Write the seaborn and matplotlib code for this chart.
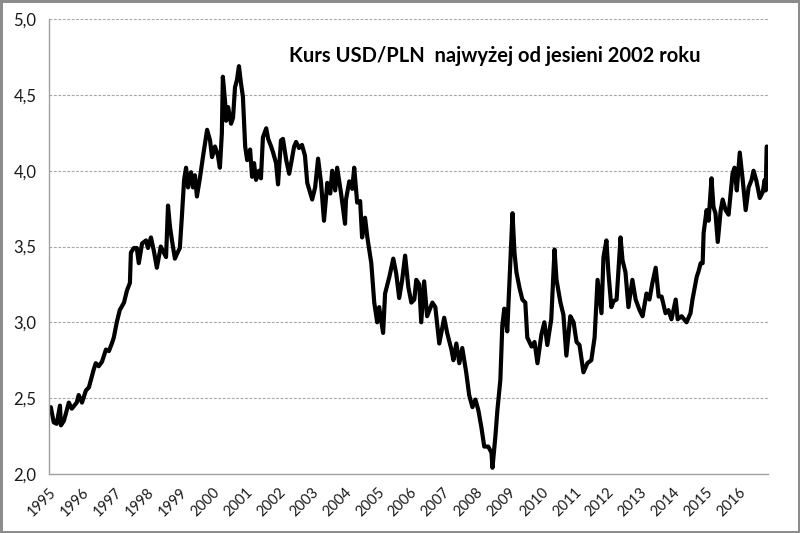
import matplotlib
matplotlib.use("Agg")
import matplotlib.pyplot as plt
import seaborn as sns
import pandas as pd

# Decimal year of each observation
dates = [
    1995.00, 1995.06, 1995.15, 1995.24, 1995.34, 1995.37, 1995.46, 1995.61, 1995.70, 1995.85,
    1995.91, 1996.01, 1996.13, 1996.22, 1996.37, 1996.43, 1996.52, 1996.62, 1996.74, 1996.83,
    1996.92, 1996.98, 1997.07, 1997.16, 1997.29, 1997.38, 1997.47, 1997.50, 1997.59, 1997.68,
    1997.74, 1997.84, 1997.96, 1998.02, 1998.11, 1998.20, 1998.29, 1998.41, 1998.48, 1998.57,
    1998.63, 1998.69, 1998.75, 1998.84, 1998.90, 1998.99, 1999.05, 1999.12, 1999.18, 1999.24,
    1999.33, 1999.39, 1999.45, 1999.51, 1999.60, 1999.70, 1999.82, 1999.91, 1999.97, 2000.06,
    2000.15, 2000.21, 2000.27, 2000.30, 2000.37, 2000.40, 2000.46, 2000.55, 2000.61, 2000.67,
    2000.73, 2000.79, 2000.85, 2000.91, 2000.98, 2001.04, 2001.13, 2001.19, 2001.25, 2001.31,
    2001.40, 2001.46, 2001.52, 2001.62, 2001.68, 2001.77, 2001.83, 2001.92, 2001.98, 2002.07,
    2002.13, 2002.23, 2002.32, 2002.38, 2002.47, 2002.53, 2002.62, 2002.71, 2002.80, 2002.87,
    2003.02, 2003.11, 2003.20, 2003.29, 2003.38, 2003.48, 2003.57, 2003.63, 2003.72, 2003.78,
    2003.90, 2004.02, 2004.05, 2004.15, 2004.24, 2004.30, 2004.39, 2004.48, 2004.54, 2004.63,
    2004.70, 2004.82, 2004.91, 2005.00, 2005.06, 2005.18, 2005.24, 2005.37, 2005.49, 2005.58,
    2005.67, 2005.76, 2005.85, 2005.95, 2006.04, 2006.13, 2006.19, 2006.28, 2006.34, 2006.43,
    2006.52, 2006.68, 2006.77, 2006.89, 2007.04, 2007.13, 2007.26, 2007.32, 2007.41, 2007.50,
    2007.59, 2007.71, 2007.80, 2007.90, 2007.99, 2008.08, 2008.17, 2008.26, 2008.38, 2008.48,
    2008.51, 2008.60, 2008.66, 2008.75, 2008.81, 2008.87, 2008.96, 2009.02, 2009.12, 2009.18,
    2009.24, 2009.33, 2009.42, 2009.51, 2009.57, 2009.70, 2009.79, 2009.88, 2010.00, 2010.09,
    2010.18, 2010.30, 2010.40, 2010.46, 2010.58, 2010.67, 2010.76, 2010.88, 2010.98, 2011.07,
    2011.16, 2011.28, 2011.40, 2011.52, 2011.62, 2011.71, 2011.83, 2011.89, 2011.98, 2012.04,
    2012.13, 2012.20, 2012.29, 2012.41, 2012.47, 2012.56, 2012.65, 2012.77, 2012.87, 2012.99,
    2013.08, 2013.20, 2013.29, 2013.38, 2013.48, 2013.57, 2013.66, 2013.78, 2013.87, 2013.96,
    2014.09, 2014.15, 2014.27, 2014.42, 2014.54, 2014.60, 2014.73, 2014.79, 2014.85, 2014.91,
    2014.94, 2015.03, 2015.09, 2015.18, 2015.24, 2015.30, 2015.37, 2015.46, 2015.52, 2015.61,
    2015.70, 2015.82, 2015.88, 2015.95, 2016.04, 2016.13, 2016.22, 2016.31, 2016.40, 2016.46,
    2016.55, 2016.65, 2016.74, 2016.80, 2016.83, 2016.86,
]

usd_pln = [
    2.42, 2.44, 2.34, 2.33, 2.45, 2.32, 2.35, 2.47, 2.43, 2.47,
    2.52, 2.47, 2.55, 2.57, 2.69, 2.73, 2.71, 2.74, 2.82, 2.81,
    2.86, 2.90, 3.00, 3.08, 3.13, 3.21, 3.26, 3.46, 3.49, 3.49,
    3.39, 3.52, 3.54, 3.49, 3.56, 3.47, 3.36, 3.50, 3.47, 3.43,
    3.77, 3.63, 3.54, 3.42, 3.45, 3.49, 3.69, 3.94, 4.02, 3.89,
    3.99, 3.89, 3.97, 3.83, 3.95, 4.10, 4.27, 4.20, 4.09, 4.16,
    4.10, 4.02, 4.25, 4.62, 4.45, 4.33, 4.42, 4.31, 4.35, 4.55,
    4.60, 4.69, 4.58, 4.49, 4.16, 4.07, 4.14, 3.96, 4.05, 3.94,
    4.00, 3.95, 4.22, 4.28, 4.21, 4.16, 4.12, 4.05, 3.91, 4.20,
    4.21, 4.07, 3.98, 4.05, 4.16, 4.19, 4.15, 4.17, 4.10, 3.92,
    3.81, 3.89, 4.08, 3.92, 3.67, 3.92, 3.85, 4.00, 3.87, 4.02,
    3.85, 3.65, 3.81, 3.93, 3.88, 4.02, 3.79, 3.80, 3.56, 3.69,
    3.56, 3.39, 3.13, 3.00, 3.10, 2.93, 3.19, 3.30, 3.42, 3.32,
    3.16, 3.28, 3.44, 3.23, 3.13, 3.15, 3.28, 3.25, 3.00, 3.27,
    3.04, 3.13, 3.10, 2.86, 3.03, 2.93, 2.82, 2.75, 2.86, 2.73,
    2.83, 2.67, 2.52, 2.44, 2.49, 2.42, 2.31, 2.18, 2.18, 2.14,
    2.04, 2.25, 2.42, 2.62, 2.98, 3.09, 2.94, 3.23, 3.72, 3.46,
    3.33, 3.23, 3.15, 3.13, 2.90, 2.84, 2.87, 2.73, 2.92, 3.00,
    2.85, 3.02, 3.48, 3.28, 3.13, 3.05, 2.78, 3.04, 3.00, 2.87,
    2.85, 2.67, 2.73, 2.75, 2.90, 3.28, 3.06, 3.43, 3.54, 3.33,
    3.10, 3.14, 3.15, 3.56, 3.41, 3.33, 3.10, 3.28, 3.15, 3.08,
    3.04, 3.19, 3.15, 3.26, 3.36, 3.17, 3.17, 3.06, 3.08, 3.02,
    3.15, 3.02, 3.04, 3.00, 3.06, 3.15, 3.30, 3.34, 3.39, 3.39,
    3.59, 3.74, 3.67, 3.95, 3.76, 3.72, 3.53, 3.74, 3.81, 3.74,
    3.71, 3.98, 4.02, 3.87, 4.12, 3.94, 3.74, 3.89, 3.94, 4.00,
    3.93, 3.82, 3.86, 3.94, 3.87, 4.16,
]

years = list(range(1995, 2017))
y_ticks = [2.0, 2.5, 3.0, 3.5, 4.0, 4.5, 5.0]
y_tick_labels = ["2,0", "2,5", "3,0", "3,5", "4,0", "4,5", "5,0"]
title = "Kurs USD/PLN  najwyżej od jesieni 2002 roku"

df = pd.DataFrame({"data": dates, "kurs": usd_pln})

sns.set_style("white")
plt.rcParams["font.family"] = ["Lato", "DejaVu Sans"]

fig = plt.figure(figsize=(8, 5.33), dpi=100, facecolor="white",
                 edgecolor="#8c8c8c", linewidth=2.5)
ax = fig.add_axes([0.061, 0.111, 0.899, 0.853])

sns.lineplot(data=df, x="data", y="kurs", ax=ax, color="black",
             linewidth=3.0, estimator=None, sort=False)

ax.set_xlim(1995, 2016.9)
ax.set_ylim(2.0, 5.0)
ax.set_yticks(y_ticks)
ax.set_yticklabels(y_tick_labels, fontsize=12, color="#1a1a1a")
ax.set_xticks(years)
ax.set_xticklabels([str(y) for y in years], rotation=45, ha="right",
                   rotation_mode="anchor", fontsize=10.5, color="#1a1a1a")
ax.set_xlabel("")
ax.set_ylabel("")

for v in y_ticks[1:]:
    ax.axhline(v, color="#a6a6a6", linewidth=0.8, linestyle=(0, (2.5, 1.5)), zorder=0)

for s in ["top", "right"]:
    ax.spines[s].set_visible(False)
for s in ["left", "bottom"]:
    ax.spines[s].set_color("#a0a0a0")
    ax.spines[s].set_linewidth(1.0)

ax.tick_params(axis="both", which="major", direction="out", length=5,
               width=1.0, color="#a0a0a0", pad=4)
ax.tick_params(axis="x", pad=3)

ax.text(0.62, 0.919, title, transform=ax.transAxes, ha="center", va="center",
        fontsize=14.5, fontweight="bold", color="black")

fig.savefig("out.png", dpi=100, facecolor="white", edgecolor=fig.get_edgecolor())
